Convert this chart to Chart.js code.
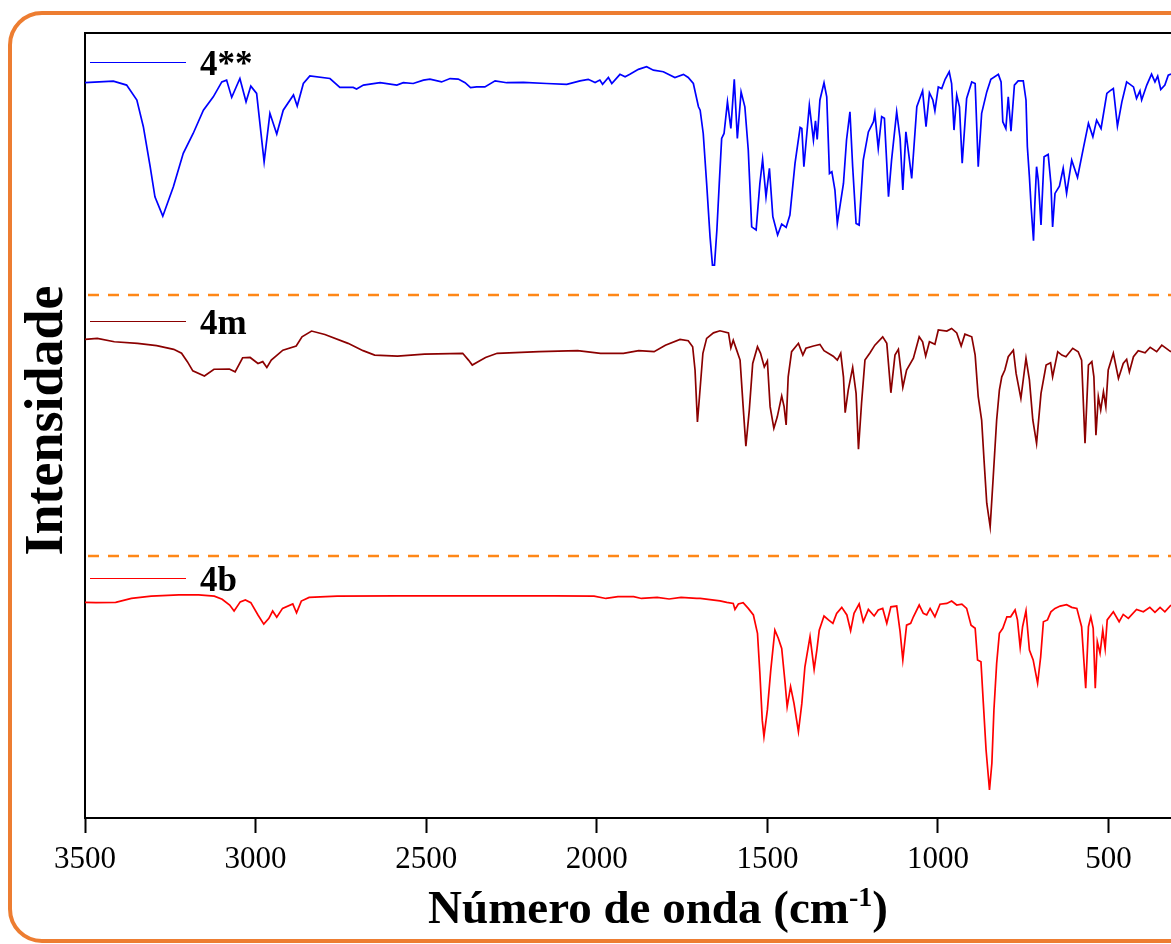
<!DOCTYPE html>
<html>
<head>
<meta charset="utf-8">
<script src="https://cdn.jsdelivr.net/npm/chart.js@4.4.1/dist/chart.umd.min.js"></script>
<style>
    body { margin: 0; background: #fff; overflow: hidden; }
    .moldura {
        position: absolute; left: 8px; top: 11px;
        width: 1300px; height: 932px; box-sizing: border-box;
        border: 4px solid #ED7D31; border-radius: 34px;
    }
    #espectro { position: absolute; left: 0; top: 0; }
</style>
</head>
<body>
<div class="moldura"></div>
<canvas id="espectro" width="1171" height="944"></canvas>
<script>
// valores: número de onda (cm-1) e intensidade relativa (0-100 em cada faixa)

const nomes = ['4**', '4m', '4b'];
const cores = ['#0000FF', '#8B0000', '#FF0000'];
const deslocamentos = [200, 100, 0];

const onda_4ast = [3500,3417,3378,3348,3329,3309,3295,3272,3241,3212,
    3183,3153,3124,3099,3085,3070,3046,3028,3014,2997,
    2975,2958,2938,2919,2889,2878,2860,2841,2782,2753,
    2714,2704,2684,2635,2586,2567,2538,2508,2489,2455,
    2430,2406,2386,2370,2352,2328,2298,2264,2215,2147,
    2088,2049,2025,2005,1991,1983,1966,1956,1932,1917,
    1903,1878,1854,1834,1805,1771,1746,1732,1717,1702,
    1697,1688,1678,1668,1661,1655,1648,1641,1634,1627,
    1617,1607,1597,1588,1577,1566,1556,1546,1533,1522,
    1514,1504,1494,1484,1470,1458,1445,1434,1419,1404,
    1399,1393,1377,1365,1359,1354,1346,1334,1326,1318,
    1311,1302,1295,1277,1268,1258,1250,1240,1231,1219,
    1204,1189,1185,1175,1165,1157,1145,1136,1121,1111,
    1103,1094,1086,1077,1062,1045,1035,1025,1015,1009,
    999,989,979,967,960,953,945,937,929,916,
    901,891,882,872,857,845,823,815,810,801,
    794,786,776,765,750,742,738,732,727,720,
    716,711,706,698,689,677,669,664,657,644,
    633,623,608,591,574,559,546,535,522,505,
    496,486,474,461,447,427,418,408,403,388,
    374,364,356,347,335,325,317];
const int_4ast = [81.0,81.6,80.1,74.4,64.2,48.9,37.4,30.0,41.2,54.0,
    61.6,70.5,75.6,81.3,82.0,75.4,82.6,73.7,79.7,76.9,
    50.8,69.3,61.4,70.5,76.3,72.1,80.7,83.6,82.6,79.2,
    79.2,78.6,80.1,81.0,80.1,81.0,80.7,82.0,82.4,81.3,
    82.6,82.4,81.0,79.1,79.4,79.4,81.7,81.0,81.1,80.7,
    80.4,81.7,82.3,81.1,82.0,80.4,83.0,80.7,84.2,83.3,
    84.2,86.1,87.1,85.8,85.2,83.0,84.2,83.0,80.7,71.8,
    70.5,61.6,42.5,22.1,11.3,11.3,24.7,42.5,59.7,61.6,
    73.7,63.5,82.3,59.7,77.5,71.8,55.3,25.9,24.7,42.5,
    51.7,37.4,48.3,29.8,22.8,27.0,25.7,30.4,50.2,63.9,
    63.5,48.9,72.4,59.1,66.4,59.3,74.4,81.0,75.6,46.3,
    47.0,40.0,27.2,42.5,59.1,69.9,48.9,27.2,26.6,51.4,
    62.2,66.1,69.3,55.9,68.0,67.4,37.4,51.4,69.9,59.7,
    40.0,62.2,54.0,44.4,71.8,77.9,64.2,77.1,74.4,70.3,
    79.4,78.8,82.3,85.2,80.7,62.9,76.3,71.8,50.2,75.0,
    81.3,80.7,48.9,69.3,77.5,82.3,84.2,81.3,66.1,63.5,
    75.6,62.5,80.1,81.7,81.7,74.4,56.5,45.0,33.6,20.6,
    34.9,48.9,43.8,26.6,52.7,53.6,42.5,25.9,38.7,41.5,
    48.3,38.7,51.4,44.8,55.9,65.5,60.3,66.7,63.5,76.9,
    77.9,78.8,64.4,73.7,81.3,79.4,75.0,77.9,74.4,80.1,
    84.3,81.3,83.5,78.4,80.1,83.9,84.3];

const onda_4m = [3500,3464,3414,3346,3290,3240,3217,3200,3184,3150,
    3122,3077,3060,3038,3016,2993,2979,2967,2954,2920,
    2881,2864,2836,2797,2729,2685,2651,2584,2505,2393,
    2376,2365,2348,2326,2292,2169,2056,1989,1922,1877,
    1832,1799,1756,1732,1719,1712,1705,1699,1689,1678,
    1658,1639,1614,1607,1600,1590,1580,1571,1563,1553,
    1543,1529,1520,1509,1500,1492,1481,1471,1458,1451,
    1445,1439,1429,1409,1396,1387,1365,1346,1334,1307,
    1295,1285,1277,1272,1263,1250,1240,1233,1224,1214,
    1199,1185,1162,1150,1138,1126,1116,1103,1092,1072,
    1055,1045,1036,1025,1009,999,974,960,945,932,
    921,901,891,882,872,865,857,847,838,828,
    820,813,804,794,779,771,757,742,732,722,
    711,698,683,670,664,649,637,625,605,589,
    579,569,559,549,543,537,530,523,515,508,
    501,486,471,457,447,439,427,413,393,378,
    359,344,324,317];
const int_4m = [82.9,83.3,82.0,81.4,80.5,79.1,77.6,74.4,70.9,68.9,
    71.5,71.6,70.5,75.9,76.0,73.7,74.4,72.2,75.0,78.8,
    80.4,83.9,86.1,84.8,81.4,78.6,76.9,76.5,77.3,77.6,
    75.0,73.1,74.4,76.0,77.6,78.2,78.6,77.6,77.6,78.6,
    78.2,80.7,82.9,82.4,80.1,71.2,51.4,61.0,77.6,83.3,
    85.4,86.2,85.4,79.7,82.6,78.8,75.0,57.2,42.1,55.9,
    73.7,80.1,77.6,72.4,74.7,57.2,48.9,53.3,61.3,57.2,
    50.2,68.6,78.2,81.4,76.9,79.5,80.4,81.0,78.6,76.5,
    75.0,77.6,68.6,54.9,63.5,72.2,62.3,40.9,58.5,75.0,
    77.8,80.7,83.9,81.4,62.5,76.9,79.1,64.6,71.2,75.7,
    83.9,82.0,76.5,82.0,81.0,86.5,86.1,87.1,85.4,80.4,
    84.9,83.9,76.9,61.0,52.1,36.8,20.3,11.3,30.4,52.1,
    63.5,68.6,71.2,76.3,78.8,69.9,60.4,75.7,67.4,52.1,
    43.2,62.3,73.1,74.0,68.6,78.2,76.9,76.3,79.5,78.2,
    75.0,43.2,73.1,74.4,68.6,46.3,61.0,55.9,62.9,57.2,
    71.2,77.6,68.0,73.7,75.3,70.5,76.3,78.6,77.8,79.9,
    78.2,80.7,78.8,78.2];

const onda_4b = [3500,3468,3410,3364,3306,3225,3167,3121,3098,3076,
    3063,3045,3030,3014,2993,2976,2961,2950,2938,2921,
    2891,2880,2866,2843,2761,2588,2356,2124,2008,1973,
    1938,1892,1869,1823,1788,1753,1707,1697,1639,1619,
    1600,1595,1585,1571,1556,1541,1529,1522,1515,1510,
    1500,1490,1478,1468,1458,1448,1442,1432,1422,1409,
    1399,1390,1375,1363,1355,1348,1334,1321,1308,1297,
    1282,1267,1256,1246,1231,1219,1204,1187,1175,1162,
    1150,1138,1121,1111,1103,1092,1080,1072,1055,1043,
    1033,1023,1009,994,974,960,945,930,916,903,
    891,884,874,867,859,849,842,836,828,820,
    810,798,787,774,767,759,752,742,732,721,
    708,699,691,679,669,657,642,623,608,593,
    579,567,559,552,545,539,533,525,517,510,
    504,486,469,457,442,418,398,379,364,349,
    335,317];
const int_4b = [82.4,82.3,82.4,83.9,84.8,85.3,85.3,84.8,83.6,81.4,
    79.1,82.6,83.3,82.3,77.6,74.1,76.3,79.1,76.7,80.1,
    81.8,78.4,82.9,84.3,84.8,84.9,84.9,84.9,84.8,83.9,
    84.6,84.6,83.9,84.3,83.7,84.3,83.9,83.9,83.0,82.4,
    82.0,79.7,81.8,82.3,80.1,77.6,70.6,55.3,37.4,31.1,
    41.3,56.6,71.8,68.7,64.8,51.5,42.5,50.2,43.8,33.0,
    43.8,57.8,69.3,56.8,64.2,71.8,77.2,75.7,74.4,78.2,
    80.5,77.6,71.6,78.2,81.8,75.0,79.7,77.2,79.5,80.1,
    74.4,80.7,81.0,71.2,60.4,73.7,74.4,76.9,81.4,78.2,
    77.6,80.1,76.9,81.7,82.0,82.9,81.4,81.7,80.1,73.7,
    72.5,60.4,59.7,43.8,26.0,10.7,20.9,41.3,59.1,70.6,
    72.5,76.9,76.9,79.5,75.7,65.2,73.1,79.2,64.2,60.4,
    51.5,61.6,75.0,75.7,78.8,80.1,81.0,81.5,80.5,80.1,
    73.1,49.6,73.1,76.9,72.5,49.6,67.4,62.9,71.8,64.8,
    75.7,78.8,75.0,77.8,76.3,79.7,78.8,80.5,78.6,80.5,
    78.8,81.4];

const ticks_x = [3500, 3000, 2500, 2000, 1500, 1000, 500];
const separadores = [100, 200];

const ondas = [onda_4ast, onda_4m, onda_4b];
const intensidades = [int_4ast, int_4m, int_4b];

const serif = "'Liberation Serif', 'Times New Roman', serif";

// monta os pontos de cada espectro, empilhando as faixas
montar_pontos = function (onda, intensidade, deslocamento) {
    return onda.map((w, i) => ({ x: w, y: intensidade[i] + deslocamento }));
}

const datasets = nomes.map((nome, i) => ({
    label: nome,
    data: montar_pontos(ondas[i], intensidades[i], deslocamentos[i]),
    borderColor: cores[i],
    borderWidth: 1.7,
    pointRadius: 0,
    tension: 0,
    fill: false
}));

// linhas tracejadas, moldura de cima, legendas e títulos
const decoracao = {
    id: 'decoracao',
    beforeDatasetsDraw(chart) {
        const ctx = chart.ctx;
        const area = chart.chartArea;
        const y = chart.scales.y;
        ctx.save();
        ctx.strokeStyle = '#FF8717';
        ctx.lineWidth = 2.5;
        ctx.setLineDash([11, 9]);
        separadores.forEach(v => {
            const py = Math.round(y.getPixelForValue(v));
            ctx.beginPath();
            ctx.moveTo(area.left + 3, py);
            ctx.lineTo(area.right, py);
            ctx.stroke();
        });
        ctx.restore();
    },
    afterDraw(chart) {
        const ctx = chart.ctx;
        const area = chart.chartArea;
        const y = chart.scales.y;
        ctx.save();

        ctx.strokeStyle = '#000';
        ctx.lineWidth = 2;
        ctx.beginPath();
        ctx.moveTo(area.left - 1, area.top);
        ctx.lineTo(area.right, area.top);
        ctx.stroke();

        // legendas dentro de cada faixa
        const queda = [29, 26, 22];
        nomes.forEach((nome, i) => {
            const topo = y.getPixelForValue(deslocamentos[i] + 100);
            const ly = Math.round(topo + queda[i]) + 0.5;
            ctx.strokeStyle = cores[i];
            ctx.lineWidth = 1;
            ctx.beginPath();
            ctx.moveTo(area.left + 5, ly);
            ctx.lineTo(area.left + 101, ly);
            ctx.stroke();
            ctx.fillStyle = '#000';
            ctx.font = 'bold 35px ' + serif;
            ctx.textAlign = 'left';
            ctx.textBaseline = 'alphabetic';
            ctx.fillText(nome, area.left + 115, ly + 12);
        });

        // título do eixo y
        ctx.fillStyle = '#000';
        ctx.translate(62, (area.top + area.bottom) / 2 - 5);
        ctx.rotate(-Math.PI / 2);
        ctx.font = 'bold 54px ' + serif;
        ctx.textAlign = 'center';
        ctx.textBaseline = 'alphabetic';
        ctx.fillText('Intensidade', 0, 0);
        ctx.setTransform(1, 0, 0, 1, 0, 0);

        // título do eixo x, com expoente
        const base = 923;
        const parte1 = 'Número de onda (cm';
        const expoente = '-1';
        const parte2 = ')';
        ctx.font = 'bold 47px ' + serif;
        const w1 = ctx.measureText(parte1).width;
        const w3 = ctx.measureText(parte2).width;
        ctx.font = 'bold 28px ' + serif;
        const w2 = ctx.measureText(expoente).width;
        let x0 = 658 - (w1 + w2 + w3) / 2;
        ctx.textAlign = 'left';
        ctx.font = 'bold 47px ' + serif;
        ctx.fillText(parte1, x0, base);
        ctx.font = 'bold 28px ' + serif;
        ctx.fillText(expoente, x0 + w1, base - 17);
        ctx.font = 'bold 47px ' + serif;
        ctx.fillText(parte2, x0 + w1 + w2, base);
        ctx.restore();
    }
};

const ctx = document.getElementById('espectro').getContext('2d');
const grafico = new Chart(ctx, {
    type: 'line',
    data: { datasets: datasets },
    options: {
        responsive: false,
        animation: false,
        events: [],
        layout: { padding: { top: 33, left: 0, right: 0, bottom: 0 } },
        plugins: {
            legend: { display: false },
            tooltip: { enabled: false }
        },
        scales: {
            x: {
                type: 'linear',
                reverse: true,
                min: 317,
                max: 3500,
                afterBuildTicks: function (scale) {
                    scale.ticks = ticks_x.map(v => ({ value: v }));
                },
                afterFit: function (scale) { scale.height = 126; },
                border: { display: true, color: '#000', width: 2 },
                grid: {
                    drawOnChartArea: false,
                    color: '#000',
                    tickLength: 15,
                    tickWidth: 2
                },
                ticks: {
                    color: '#000',
                    font: { family: serif, size: 31 },
                    padding: 8,
                    maxRotation: 0,
                    autoSkip: false,
                    callback: function (valor) { return String(valor); }
                }
            },
            y: {
                min: 0,
                max: 300,
                afterFit: function (scale) { scale.width = 85; },
                border: { display: true, color: '#000', width: 2 },
                grid: { drawOnChartArea: false, drawTicks: false },
                ticks: { display: false }
            }
        }
    },
    plugins: [decoracao]
});
</script>
</body>
</html>
